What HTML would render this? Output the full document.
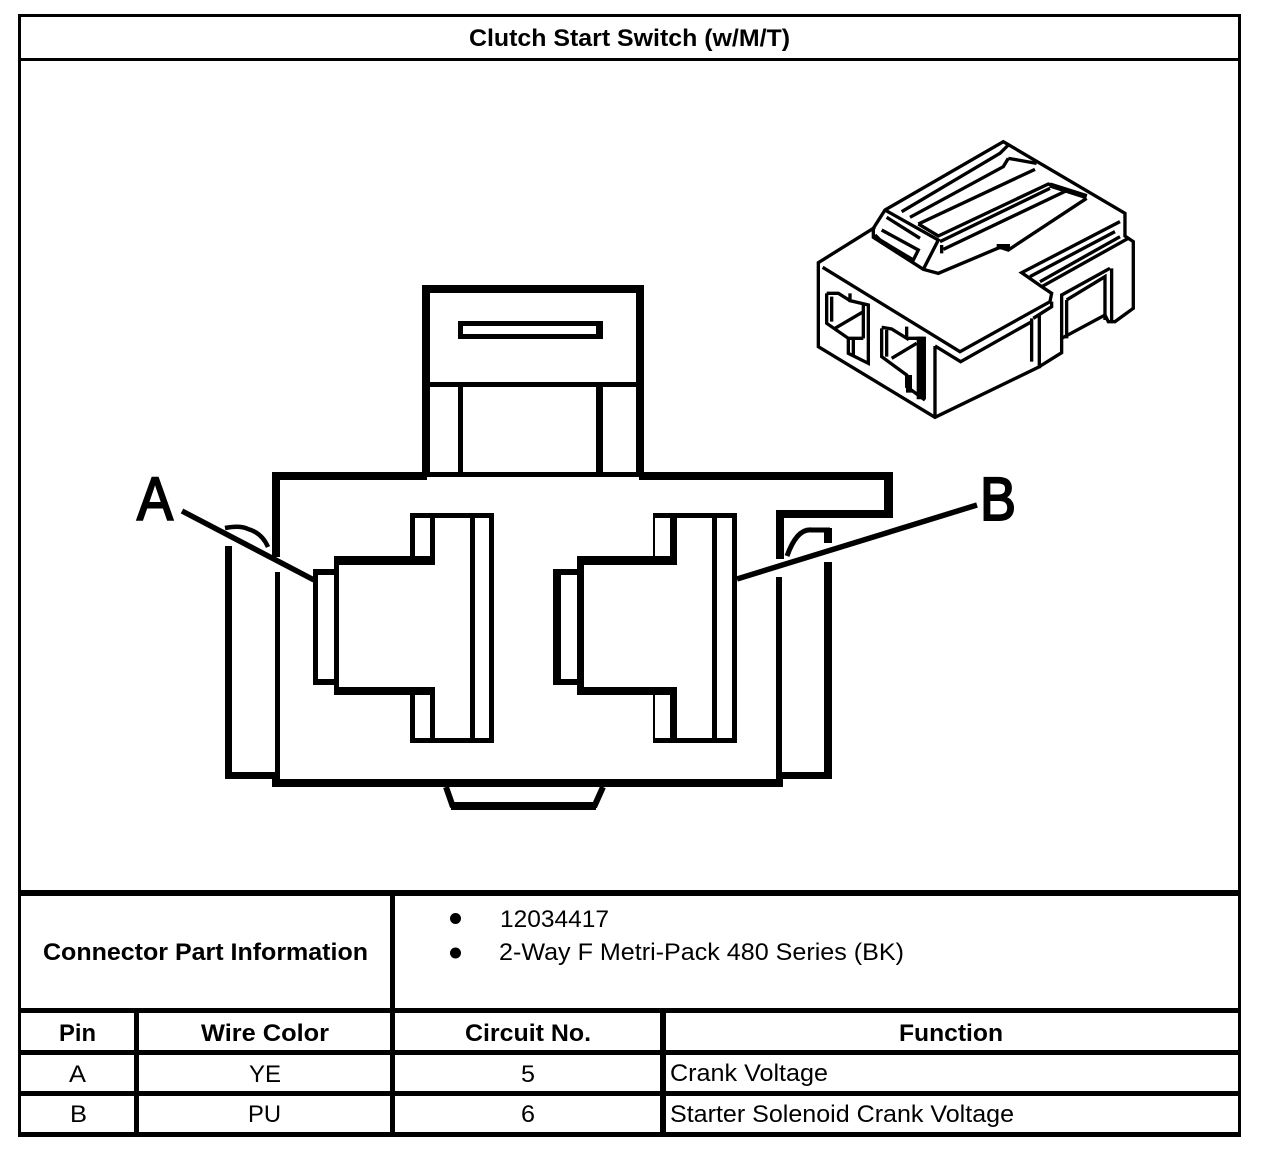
<!DOCTYPE html>
<html><head><meta charset="utf-8"><title>Clutch Start Switch</title>
<style>html,body{margin:0;padding:0;background:#fff}svg{display:block}
text{font-family:"Liberation Sans",sans-serif;fill:#000;font-size:24px}
.b{font-weight:bold}</style></head><body>
<svg width="1280" height="1154" viewBox="0 0 1280 1154" xmlns="http://www.w3.org/2000/svg">
<rect width="1280" height="1154" fill="#fff"/>
<!-- table lines -->
<g fill="#000" shape-rendering="crispEdges">
<rect x="18" y="14" width="1223" height="3"/>
<rect x="18" y="14" width="3" height="1123"/>
<rect x="1238" y="14" width="3" height="1123"/>
<rect x="18" y="58" width="1223" height="3"/>
<rect x="18" y="890" width="1223" height="6"/>
<rect x="18" y="1008" width="1223" height="5"/>
<rect x="18" y="1050" width="1223" height="5"/>
<rect x="18" y="1091" width="1223" height="5"/>
<rect x="18" y="1132" width="1223" height="5"/>
<rect x="390" y="890" width="5" height="247"/>
<rect x="134" y="1008" width="5" height="129"/>
<rect x="660" y="1008" width="6" height="129"/>
<!-- upper tab -->
<rect x="422" y="285" width="222" height="8"/>
<rect x="422" y="285" width="8" height="192"/>
<rect x="636" y="285" width="8" height="192"/>
<rect x="422" y="382" width="222" height="5"/>
<rect x="458" y="382" width="5" height="95"/>
<rect x="596" y="382" width="7" height="95"/>
<rect x="458" y="321" width="145" height="5"/>
<rect x="458" y="334" width="145" height="5"/>
<rect x="458" y="321" width="5" height="18"/>
<rect x="596" y="321" width="7" height="18"/>
<!-- main body -->
<rect x="272" y="472" width="155" height="8"/>
<rect x="427" y="472" width="212" height="5"/>
<rect x="639" y="472" width="254" height="8"/>
<rect x="884" y="472" width="9" height="46"/>
<rect x="776" y="510" width="117" height="8"/>
<rect x="776" y="510" width="8" height="49"/>
<rect x="776" y="577" width="6" height="210"/>
<rect x="272" y="472" width="8" height="85"/>
<rect x="275" y="572" width="5" height="215"/>
<rect x="272" y="779" width="511" height="8"/>
<!-- side wings -->
<rect x="225" y="546" width="7" height="233"/>
<rect x="225" y="772" width="50" height="7"/>
<rect x="824" y="562" width="8" height="217"/>
<rect x="782" y="772" width="50" height="7"/>
<rect x="824" y="528" width="8" height="15"/>
<!-- terminal A -->
<rect x="313" y="569" width="5" height="116"/>
<rect x="313" y="569" width="26" height="6"/>
<rect x="313" y="679" width="26" height="6"/>
<rect x="334" y="556" width="5" height="139"/>
<rect x="334" y="556" width="101" height="9"/>
<rect x="334" y="687" width="101" height="8"/>
<rect x="410" y="513" width="84" height="5"/>
<rect x="410" y="738" width="84" height="5"/>
<rect x="410" y="513" width="5" height="45"/>
<rect x="410" y="690" width="5" height="53"/>
<rect x="430" y="513" width="5" height="52"/>
<rect x="430" y="690" width="5" height="53"/>
<rect x="470" y="513" width="5" height="230"/>
<rect x="489" y="513" width="5" height="230"/>
<!-- terminal B -->
<rect x="553" y="569" width="8" height="116"/>
<rect x="553" y="569" width="31" height="6"/>
<rect x="553" y="679" width="31" height="6"/>
<rect x="577" y="556" width="7" height="139"/>
<rect x="577" y="556" width="100" height="9"/>
<rect x="577" y="687" width="100" height="8"/>
<rect x="653" y="513" width="84" height="5"/>
<rect x="653" y="738" width="84" height="5"/>
<rect x="653" y="513" width="2" height="45"/>
<rect x="653" y="690" width="2" height="53"/>
<rect x="670" y="513" width="7" height="52"/>
<rect x="670" y="690" width="7" height="53"/>
<rect x="712" y="513" width="5" height="230"/>
<rect x="732" y="513" width="5" height="230"/>
<!-- lower tab -->
<rect x="451" y="802" width="145" height="8"/>
</g>
<g fill="none" stroke="#000">
<path d="M446 787L453 807M603 787L594 807" stroke-width="6"/>
<path d="M182 511L314 580" stroke-width="5.5"/>
<path d="M737 579L977 505" stroke-width="5.5"/>
<path d="M225 528Q240 525 248 529Q262 533 268 547" stroke-width="4.5"/>
<path d="M787 556Q797 528 812 530L830 530" stroke-width="5"/>
</g>
<!-- isometric connector -->
<g transform="translate(800 130) scale(.3333)" fill="none" stroke="#000" stroke-width="10" stroke-linejoin="miter">
<!-- outer silhouette -->
<path d="M225 292L55 398V650L405 862L715 712L785 668V495L930 415"/>
<path d="M785 625L915 555L925 575H945L1000 535V335L975 318V250L610 35L255 240L220 295V322L370 418L415 430L600 352L625 360L860 205"/>
<!-- front top edge and ledge -->
<path d="M68 412L480 665L750 515L755 490L725 470L665 428L960 275M405 648V862M405 648L482 695L695 575M700 565L755 530V515"/>
<path d="M725 470L985 325M690 440L945 305M720 455L960 320"/>
<!-- side window -->
<path d="M695 565V695M718 555V715M800 510L915 440V570M800 510V625M935 415V575"/>
<!-- latch -->
<path d="M255 240L415 330L370 418M260 262L360 325M245 300L355 360L340 390L240 330L225 315"/>
<!-- cover ribs -->
<path d="M305 245L600 70L625 45M330 262L610 110L625 85M355 282L705 118M355 282L415 318L745 162L860 200M625 85L710 100"/>
<path d="M420 335L750 175M425 370V345M430 358L800 182"/>
<!-- port 1 -->
<path d="M80 490V580L145 625V670L205 700V525L150 512V490M80 490H115L150 512M95 500V575M105 595L190 545M190 525V625M145 625H190M160 630V675"/>
<!-- port 2 -->
<path d="M245 595V680L320 735V770L375 810M245 592L275 597L320 625V590M260 600V680M275 685L350 640M320 625H370"/>
<path d="M364 620V808" stroke-width="28"/>
<path d="M327 735V788" stroke-width="18"/>
<path d="M590 350H630" stroke-width="16"/>
<path d="M750 165L860 200" stroke-width="16"/>
</g>
<!-- big labels -->
<text x="137" y="520" style="font-size:61px" textLength="36" lengthAdjust="spacingAndGlyphs" stroke="#000" stroke-width="2">A</text>
<text x="980" y="520" style="font-size:61px" textLength="36" lengthAdjust="spacingAndGlyphs" stroke="#000" stroke-width="2">B</text>
<!-- table text -->
<text class="b" x="469" y="46" textLength="321" lengthAdjust="spacingAndGlyphs">Clutch Start Switch (w/M/T)</text>
<text class="b" x="43" y="960" textLength="325" lengthAdjust="spacingAndGlyphs">Connector Part Information</text>
<circle cx="455.5" cy="918.5" r="5.5" fill="#000"/>
<circle cx="455.5" cy="953" r="5.5" fill="#000"/>
<text x="500" y="927" textLength="109" lengthAdjust="spacingAndGlyphs">12034417</text>
<text x="499" y="960" textLength="405" lengthAdjust="spacingAndGlyphs">2-Way F Metri-Pack 480 Series (BK)</text>
<text class="b" x="59" y="1041" textLength="37" lengthAdjust="spacingAndGlyphs">Pin</text>
<text class="b" x="201" y="1041" textLength="128" lengthAdjust="spacingAndGlyphs">Wire Color</text>
<text class="b" x="465" y="1041" textLength="126" lengthAdjust="spacingAndGlyphs">Circuit No.</text>
<text class="b" x="899" y="1041" textLength="104" lengthAdjust="spacingAndGlyphs">Function</text>
<text x="69" y="1082" textLength="17" lengthAdjust="spacingAndGlyphs">A</text>
<text x="249" y="1082" textLength="32" lengthAdjust="spacingAndGlyphs">YE</text>
<text x="521" y="1082" textLength="14" lengthAdjust="spacingAndGlyphs">5</text>
<text x="670" y="1081" textLength="158" lengthAdjust="spacingAndGlyphs">Crank Voltage</text>
<text x="70" y="1122" textLength="17" lengthAdjust="spacingAndGlyphs">B</text>
<text x="248" y="1122" textLength="33" lengthAdjust="spacingAndGlyphs">PU</text>
<text x="521" y="1122" textLength="14" lengthAdjust="spacingAndGlyphs">6</text>
<text x="670" y="1122" textLength="344" lengthAdjust="spacingAndGlyphs">Starter Solenoid Crank Voltage</text>
</svg>
</body></html>
